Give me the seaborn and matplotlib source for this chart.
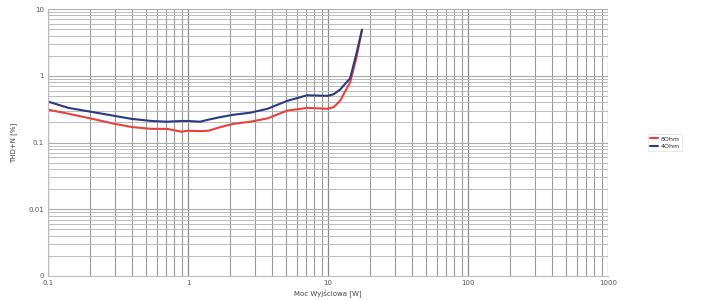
import matplotlib
matplotlib.use("Agg")
import matplotlib.pyplot as plt
import matplotlib.ticker as mticker
import seaborn as sns
import pandas as pd
import numpy as np

power_8ohm = [0.1, 0.14, 0.2, 0.3, 0.4, 0.55, 0.71, 0.9, 1.0, 1.22, 1.4, 1.7, 2.1, 2.8, 3.7, 5.1, 7.1, 10.0, 11.0, 12.2, 14.4, 16.0, 17.5]
thd_8ohm = [0.31, 0.27, 0.23, 0.19, 0.17, 0.16, 0.16, 0.145, 0.15, 0.148, 0.15, 0.17, 0.19, 0.205, 0.23, 0.30, 0.33, 0.32, 0.34, 0.42, 0.80, 1.9, 4.9]

power_4ohm = [0.1, 0.14, 0.2, 0.3, 0.4, 0.55, 0.71, 0.9, 1.0, 1.22, 1.4, 1.7, 2.1, 2.8, 3.7, 5.1, 7.1, 10.0, 11.0, 12.2, 14.4, 16.0, 17.5]
thd_4ohm = [0.41, 0.33, 0.29, 0.25, 0.225, 0.21, 0.205, 0.21, 0.21, 0.205, 0.22, 0.24, 0.26, 0.28, 0.32, 0.42, 0.51, 0.50, 0.53, 0.62, 0.92, 2.2, 4.9]

series_labels = ["8Ohm", "4Ohm"]
y_tick_values = [0.001, 0.01, 0.1, 1, 10]
y_tick_labels = ["0", "0.01", "0.1", "1", "10"]
x_tick_values = [0.1, 1, 10, 100, 1000]
x_tick_labels = ["0.1", "1", "10", "100", "1000"]

df = pd.concat([
    pd.DataFrame({"P": power_8ohm, "THD": thd_8ohm, "load": series_labels[0]}),
    pd.DataFrame({"P": power_4ohm, "THD": thd_4ohm, "load": series_labels[1]}),
], ignore_index=True)

sns.set_style("white")
plt.rcParams['font.family'] = ['DejaVu Sans']

fig = plt.figure(figsize=(7.05, 3.0), dpi=100)
ax = fig.add_axes([48/705, 24/300, 560/705, 267/300])

sns.lineplot(data=df, x="P", y="THD", hue="load", hue_order=series_labels,
             palette={"8Ohm": "#e8413c", "4Ohm": "#2b3a80"}, linewidth=1.5,
             sort=False, estimator=None, ax=ax)

ax.set_xscale("log")
ax.set_yscale("log")
ax.set_xlim(0.1, 1000)
ax.set_ylim(0.001, 10)

ax.xaxis.set_major_locator(mticker.FixedLocator(x_tick_values))
ax.xaxis.set_major_formatter(mticker.FixedFormatter(x_tick_labels))
ax.yaxis.set_major_locator(mticker.FixedLocator(y_tick_values))
ax.yaxis.set_major_formatter(mticker.FixedFormatter(y_tick_labels))
ax.xaxis.set_minor_locator(mticker.LogLocator(base=10, subs=np.arange(2, 10)))
ax.yaxis.set_minor_locator(mticker.LogLocator(base=10, subs=np.arange(2, 10)))
ax.xaxis.set_minor_formatter(mticker.NullFormatter())
ax.yaxis.set_minor_formatter(mticker.NullFormatter())

ax.grid(True, which="major", axis="x", color="#888888", linewidth=0.9)
ax.grid(True, which="minor", axis="x", color="#999999", linewidth=0.8)
ax.grid(True, which="major", axis="y", color="#aaaaaa", linewidth=0.8)
ax.grid(True, which="minor", axis="y", color="#bbbbbb", linewidth=0.7)
ax.set_axisbelow(True)

for side in ["top", "right"]:
    ax.spines[side].set_visible(False)
for side in ["left", "bottom"]:
    ax.spines[side].set_color("#bbbbbb")
    ax.spines[side].set_linewidth(0.8)

ax.tick_params(axis="both", which="both", length=0, labelsize=5, colors="#555555", pad=3)
ax.set_xlabel("Moc Wyjściowa [W]", fontsize=5, color="#444444", labelpad=2)
ax.set_ylabel("THD+N [%]", fontsize=5, color="#444444", labelpad=8)

leg = ax.legend(title=None, loc="center left", bbox_to_anchor=(1.065, 0.5),
                fontsize=4.5, frameon=True, handlelength=1.2, borderpad=0.4,
                labelspacing=0.3, handletextpad=0.5)
leg.get_frame().set_edgecolor("#dddddd")
leg.get_frame().set_linewidth(0.6)

fig.savefig("out.png", dpi=100)
